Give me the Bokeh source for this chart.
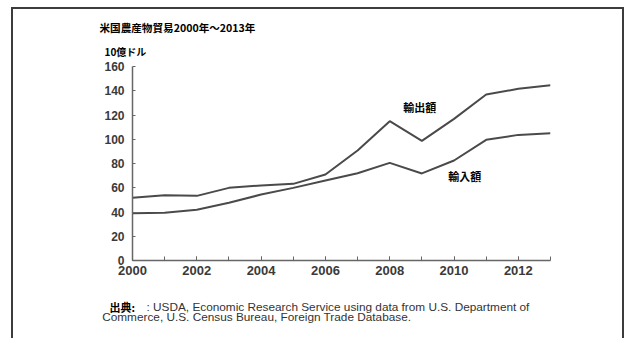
from bokeh.plotting import figure
from bokeh.models import Range1d, FixedTicker, SingleIntervalTicker, ColumnDataSource
from bokeh.layouts import column
from bokeh.core.properties import value
from bokeh.embed import file_html
from bokeh.resources import INLINE

years = list(range(2000, 2014))
exports = [51.7, 53.9, 53.3, 59.9, 61.9, 63.2, 70.9, 90.7, 114.9, 98.7, 116.8, 136.9, 141.6, 144.6]
imports = [39.0, 39.3, 41.8, 47.6, 54.4, 59.9, 66.0, 72.0, 80.5, 71.8, 82.5, 99.5, 103.6, 105.0]
y_ticks = [0, 20, 40, 60, 80, 100, 120, 140, 160]

title_text = "米国農産物貿易2000年～2013年"
unit_text = "10億ドル"
export_label = "輸出額"
import_label = "輸入額"
source_head = "出典:"
source_line1 = ": USDA, Economic Research Service using data from U.S. Department of"
source_line2 = "Commerce, U.S. Census Bureau, Foreign Trade Database."

LINE = "#4a4a4a"
AX = "#666666"
CJK = "Noto Sans CJK JP"
LAT = "Liberation Sans"
W = 609


def text_panel(h):
    f = figure(width=W, height=h, output_backend="svg", toolbar_location=None,
               x_range=Range1d(0, W), y_range=Range1d(h, 0),
               min_border=0, x_axis_type=None, y_axis_type=None, frame_align=False)
    f.outline_line_color = None
    f.grid.visible = False
    f.background_fill_color = "white"
    f.border_fill_color = "white"
    return f


def put(f, x, y, t, font, size, bold=False, color="#111111"):
    f.text(x=[x], y=[y], text=[t], text_font=value(font), text_font_size=value(size),
           text_font_style="bold" if bold else "normal", text_color=color,
           text_baseline="middle", text_align="left")


# --- top panel: title and unit
top = text_panel(52)
put(top, 86, 17.5, title_text, CJK, "10.6px", True, "#000000")
put(top, 91, 41.5, unit_text, CJK, "10px", True, "#000000")

# --- main chart
p = figure(output_backend="svg", toolbar_location=None,
           x_range=Range1d(2000, 2013), y_range=Range1d(0, 160),
           frame_width=418, frame_height=194, frame_align=False,
           min_border_left=119, min_border_right=W - 119 - 418,
           min_border_top=5, min_border_bottom=30)
p.outline_line_color = None
p.grid.visible = False
p.background_fill_color = "white"
p.border_fill_color = "white"

src = ColumnDataSource(dict(year=years, exports=exports, imports=imports))
p.line("year", "exports", source=src, line_color=LINE, line_width=2)
p.line("year", "imports", source=src, line_color=LINE, line_width=2)

p.text(x=[2008.42], y=[127.0], text=[export_label], text_font=value(CJK),
       text_font_size=value("11px"), text_font_style="bold", text_color="#000000",
       text_baseline="middle", text_align="left")
p.text(x=[2009.82], y=[70.1], text=[import_label], text_font=value(CJK),
       text_font_size=value("11px"), text_font_style="bold", text_color="#000000",
       text_baseline="middle", text_align="left")

xa = p.xaxis[0]
xa.ticker = SingleIntervalTicker(interval=2, num_minor_ticks=2)
xa.major_tick_in = 4
xa.major_tick_out = 0
xa.minor_tick_in = 4
xa.minor_tick_out = 0
xa.axis_line_color = AX
xa.axis_line_width = 1.5
xa.major_tick_line_color = AX
xa.minor_tick_line_color = AX
xa.major_label_text_font = LAT
xa.major_label_text_font_size = "13px"
xa.major_label_text_font_style = "bold"
xa.major_label_text_color = "#3a3a3a"
xa.major_label_standoff = 5

ya = p.yaxis[0]
ya.ticker = FixedTicker(ticks=y_ticks)
ya.major_tick_in = 3
ya.major_tick_out = 0
ya.minor_tick_line_color = None
ya.axis_line_color = AX
ya.axis_line_width = 1.5
ya.major_tick_line_color = AX
ya.major_label_text_font = LAT
ya.major_label_text_font_size = "12px"
ya.major_label_text_font_style = "bold"
ya.major_label_text_color = "#3a3a3a"
ya.major_label_standoff = 8

# --- footer panel
bot = text_panel(48)
put(bot, 96, 16, source_head, CJK, "11px", True, "#000000")
put(bot, 133, 16.5, source_line1, LAT, "11.8px", False, "#333333")
put(bot, 88.7, 26, source_line2, LAT, "11.8px", False, "#333333")

layout = column(top, p, bot, spacing=0)
layout.styles = {"border-left": "2px solid #3c3c3c", "border-top": "2px solid #3c3c3c",
                 "border-right": "2px solid #3c3c3c", "margin-left": "11px", "margin-top": "7px"}

open("out.html", "w").write(file_html(layout, INLINE))
